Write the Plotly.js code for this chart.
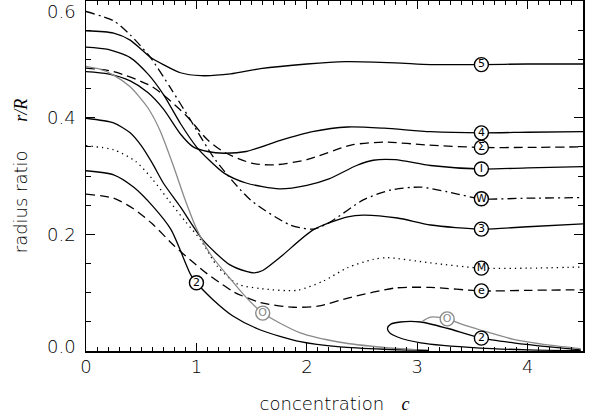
<!DOCTYPE html>
<html>
<head>
<meta charset="utf-8">
<script src="https://cdn.plot.ly/plotly-3.0.1.min.js"></script>
<style>html,body{margin:0;padding:0;background:#fff;}#chart{width:591px;height:416px;}</style>
</head>
<body>
<div id="chart"></div>
<script>
// ---- data ----
const c5_x = [0, 0.25, 0.4, 0.58, 0.70, 0.855, 1.04, 1.31, 1.58, 2.0, 2.35, 2.8, 3.12, 3.58, 4.0, 4.5];
const c5_y = [0.549, 0.545, 0.533, 0.504, 0.491, 0.477, 0.472, 0.475, 0.484, 0.492, 0.496, 0.494, 0.491, 0.491, 0.492, 0.492];

const c4_x = [0, 0.2, 0.4, 0.56, 0.7, 0.855, 0.97, 1.1, 1.25, 1.45, 1.76, 2.05, 2.37, 2.7, 3.12, 3.58, 4.0, 4.5];
const c4_y = [0.479, 0.475, 0.463, 0.443, 0.415, 0.372, 0.35, 0.342, 0.339, 0.342, 0.361, 0.376, 0.384, 0.382, 0.376, 0.374, 0.375, 0.376];

const cS_x = [0, 0.25, 0.6, 0.9, 1.1, 1.25, 1.5, 1.7, 2.0, 2.4, 2.7, 3.1, 3.58, 4.0, 4.5];
const cS_y = [0.485, 0.479, 0.453, 0.405, 0.362, 0.341, 0.322, 0.319, 0.328, 0.353, 0.358, 0.353, 0.349, 0.349, 0.35];

const cI_x = [0, 0.2, 0.4, 0.56, 0.7, 0.855, 1.0, 1.1, 1.25, 1.45, 1.75, 2.0, 2.2, 2.45, 2.6, 2.8, 3.12, 3.58, 4.0, 4.5];
const cI_y = [0.521, 0.517, 0.503, 0.475, 0.44, 0.39, 0.35, 0.33, 0.305, 0.288, 0.278, 0.284, 0.295, 0.318, 0.327, 0.328, 0.318, 0.312, 0.314, 0.316];

const cW_x = [0, 0.25, 0.4, 0.584, 0.765, 0.946, 1.17, 1.49, 1.85, 2.06, 2.21, 2.51, 2.76, 3.03, 3.27, 3.58, 4.0, 4.5];
const cW_y = [0.582, 0.566, 0.542, 0.503, 0.451, 0.396, 0.328, 0.259, 0.216, 0.209, 0.221, 0.259, 0.276, 0.281, 0.273, 0.261, 0.262, 0.263];

const c3_x = [0, 0.25, 0.4, 0.5, 0.6, 0.7, 0.855, 1.06, 1.3, 1.46, 1.52, 1.6, 1.76, 2.06, 2.37, 2.51, 2.82, 3.12, 3.58, 4.0, 4.5];
const c3_y = [0.399, 0.391, 0.374, 0.352, 0.322, 0.288, 0.247, 0.19, 0.148, 0.136, 0.134, 0.138, 0.161, 0.208, 0.23, 0.233, 0.228, 0.216, 0.209, 0.213, 0.218];

const cM_x = [0, 0.25, 0.45, 0.6, 0.75, 0.9, 1.04, 1.19, 1.37, 1.58, 1.91, 2.15, 2.37, 2.6, 2.73, 3.12, 3.58, 4.0, 4.5];
const cM_y = [0.352, 0.345, 0.325, 0.295, 0.258, 0.222, 0.19, 0.145, 0.115, 0.107, 0.104, 0.12, 0.143, 0.157, 0.16, 0.151, 0.142, 0.142, 0.144];

const ce_x = [0, 0.25, 0.43, 0.6, 0.8, 0.97, 1.1, 1.22, 1.34, 1.58, 1.88, 2.1, 2.4, 2.8, 3.12, 3.58, 4.0, 4.5];
const ce_y = [0.269, 0.262, 0.244, 0.218, 0.18, 0.152, 0.132, 0.116, 0.101, 0.083, 0.075, 0.077, 0.092, 0.108, 0.109, 0.103, 0.104, 0.105];

const c2_x = [0, 0.25, 0.43, 0.61, 0.77, 0.95, 1.0, 1.15, 1.33, 1.58, 1.94, 2.3, 2.7, 3.1];
const c2_y = [0.309, 0.302, 0.281, 0.247, 0.208, 0.13, 0.117, 0.088, 0.06, 0.036, 0.016, 0.007, 0.003, 0.001];

const c2loop_x = [4.48, 4.0, 3.57, 3.03, 2.82, 2.75, 2.73, 2.76, 2.846, 3.03, 3.27, 3.58, 3.87, 4.2, 4.48];
const c2loop_y = [0.0005, 0.002, 0.005, 0.014, 0.024, 0.031, 0.039, 0.046, 0.0497, 0.0497, 0.039, 0.022, 0.014, 0.007, 0.002];

const cO_x = [0, 0.13, 0.25, 0.4, 0.56, 0.67, 0.79, 0.9, 1.0, 1.13, 1.31, 1.45, 1.6, 1.94, 2.3, 2.7, 3.0];
const cO_y = [0.488, 0.483, 0.473, 0.453, 0.417, 0.378, 0.318, 0.258, 0.21, 0.165, 0.123, 0.092, 0.065, 0.031, 0.015, 0.006, 0.002];

const cO2_x = [3.04, 3.12, 3.27, 3.4, 3.57, 3.87, 4.2, 4.48];
const cO2_y = [0.05, 0.058, 0.055, 0.046, 0.036, 0.02, 0.01, 0.004];

// curve labels (black)
const lab_txt = ['5', '4', 'Σ', 'I', 'W', '3', 'M', 'e', '2', '2'];
const lab_x   = [3.58, 3.58, 3.58, 3.58, 3.58, 3.58, 3.58, 3.58, 3.58, 1.0];
const lab_y   = [0.491, 0.374, 0.349, 0.312, 0.261, 0.209, 0.142, 0.103, 0.022, 0.117];
// curve labels (gray)
const glab_txt = ['O', 'O'];
const glab_x   = [1.6, 3.27];
const glab_y   = [0.065, 0.055];

const xTicks = [0, 1, 2, 3, 4];
const yTicks = [0.0, 0.2, 0.4, 0.6];
const yTickText = ['0.0', '0.2', '0.4', '0.6'];

// ---- drawing ----
const BLK = '#000';
const GRY = '#8a8a8a';
function line(x, y, color, dash) {
  return {x: x, y: y, type: 'scatter', mode: 'lines', hoverinfo: 'skip',
          line: {color: color, width: 1.3, dash: dash, shape: 'spline', smoothing: 0.7}};
}
const traces = [
  line(c5_x, c5_y, BLK, 'solid'),
  line(c4_x, c4_y, BLK, 'solid'),
  line(cS_x, cS_y, BLK, '9px,5px'),
  line(cI_x, cI_y, BLK, 'solid'),
  line(cW_x, cW_y, BLK, '9px,4px,2px,4px'),
  line(c3_x, c3_y, BLK, 'solid'),
  line(cM_x, cM_y, BLK, '1.3px,4px'),
  line(ce_x, ce_y, BLK, '9px,5px'),
  line(c2_x, c2_y, BLK, 'solid'),
  line(c2loop_x, c2loop_y, BLK, 'solid'),
  line(cO_x, cO_y, GRY, 'solid'),
  line(cO2_x, cO2_y, GRY, 'solid'),
  {x: lab_x, y: lab_y, text: lab_txt, type: 'scatter', mode: 'markers+text', hoverinfo: 'skip',
   textposition: 'middle center', cliponaxis: false,
   textfont: {family: 'DejaVu Sans', size: 11, color: BLK, weight: 'normal'},
   marker: {size: 14, color: 'white', line: {color: BLK, width: 1.4}}},
  {x: glab_x, y: glab_y, text: glab_txt, type: 'scatter', mode: 'markers+text', hoverinfo: 'skip',
   textposition: 'middle center', cliponaxis: false,
   textfont: {family: 'DejaVu Sans', size: 11, color: GRY, weight: 'normal'},
   marker: {size: 14, color: 'white', line: {color: GRY, width: 1.4}}}
];

const FONT = {family: 'DejaVu Sans', size: 18, color: '#000', weight: 200};
const annotations = yTicks.map((v, i) => {
  const last = i === yTicks.length - 1;
  return {
    x: -0.018, xref: 'paper', y: v, yref: 'y', text: yTickText[i], showarrow: false,
    xanchor: 'right', yanchor: last ? 'top' : 'middle',
    yshift: i === 0 ? 5 : (last ? 1 : 0),
    font: FONT, borderpad: 0
  };
});

const layout = {
  width: 591, height: 416,
  margin: {l: 86, r: 8, t: 1, b: 65},
  paper_bgcolor: '#fff', plot_bgcolor: '#fff',
  showlegend: false,
  font: FONT,
  xaxis: {
    range: [0, 4.5], showgrid: false, zeroline: false,
    showline: true, linecolor: '#000', linewidth: 1.5, mirror: 'allticks',
    ticks: 'inside', ticklen: 8, tickwidth: 1, tickcolor: '#000',
    tickmode: 'array', tickvals: xTicks, ticktext: xTicks.map(String),
    tickfont: FONT, ticklabelstandoff: -1,
    minor: {dtick: 0.1, tick0: 0, ticks: 'inside', ticklen: 4, tickwidth: 1, tickcolor: '#000', showgrid: false},
    title: {text: 'concentration\u00a0\u00a0\u00a0<span style="font-family:Liberation Serif"><i>c</i></span>', font: FONT, standoff: 21}
  },
  yaxis: {
    range: [0, 0.6], showgrid: false, zeroline: false,
    showline: true, linecolor: '#000', linewidth: 1.5, mirror: 'allticks',
    ticks: 'inside', ticklen: 9, tickwidth: 1, tickcolor: '#000',
    tickmode: 'array', tickvals: yTicks, showticklabels: false,
    minor: {dtick: 0.05, tick0: 0, ticks: 'inside', ticklen: 5, tickwidth: 1, tickcolor: '#000', showgrid: false},
    title: {text: 'radius ratio\u00a0\u00a0\u00a0\u00a0\u00a0<span style="font-family:Liberation Serif"><i>r/R</i></span>', font: FONT, standoff: 52}
  },
  annotations: annotations
};

Plotly.newPlot('chart', traces, layout, {staticPlot: true, displayModeBar: false});
</script>
</body>
</html>
